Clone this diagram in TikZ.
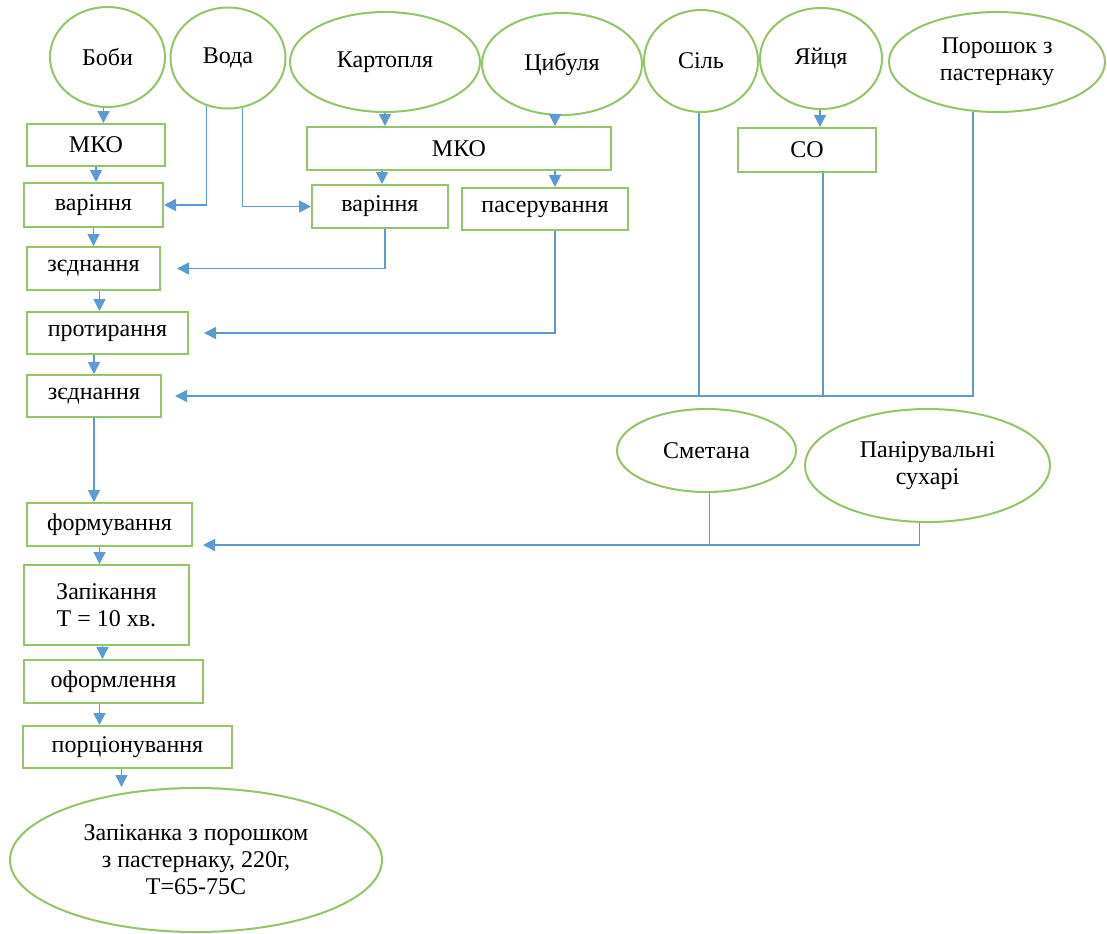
\documentclass[tikz,border=0pt]{standalone}
\usepackage{fontspec}
\setmainfont{Liberation Serif}
\usepackage{xcolor}
\usepackage{tikz}
\usetikzlibrary{shapes.geometric, arrows.meta}
\definecolor{leafgreen}{RGB}{146,196,104}
\definecolor{flowblue}{RGB}{91,155,213}

\begin{document}
\begin{tikzpicture}[
  x=0.5pt, y=-0.5pt,
  font=\fontsize{12}{13.5}\selectfont,
  ingr/.style={ellipse, draw=leafgreen, line width=1pt, inner sep=0pt, align=center},
  stage/.style={rectangle, draw=leafgreen, line width=1pt, inner sep=0pt, align=center},
  flow/.style={draw=flowblue, line width=0.75pt},
  arrow/.style={flow, -{Triangle[length=6pt,width=6pt]}}
]
\useasboundingbox (0,0) rectangle (1107,933);

% raw products
\node[ingr, minimum width=57.5pt, minimum height=50pt] (bobi) at (107.5,57) {Боби};
\node[ingr, minimum width=57.5pt, minimum height=50.5pt] (voda) at (228,58) {Вода};
\node[ingr, minimum width=95pt, minimum height=50pt] (kart) at (385,62) {Картопля};
\node[ingr, minimum width=80pt, minimum height=51pt] (cib) at (562,64) {Цибуля};
\node[ingr, minimum width=57pt, minimum height=51pt] (sil) at (701,61) {Сіль};
\node[ingr, minimum width=61pt, minimum height=50.5pt] (yaj) at (821,58.5) {Яйця};
\node[ingr, minimum width=108pt, minimum height=50pt] (por) at (997,62) {Порошок з\\пастернаку};
\node[ingr, minimum width=89.5pt, minimum height=41.5pt] (smet) at (706.5,450.5) {Сметана};
\node[ingr, minimum width=122.5pt, minimum height=56.5pt] (pan) at (927.5,465.5) {Панірувальні\\сухарі};

% stages
\node[stage, minimum width=69pt, minimum height=21pt] (mko1) at (96,145) {МКО};
\node[stage, minimum width=69.5pt, minimum height=22pt] (var1) at (93.5,205) {варіння};
\node[stage, minimum width=152pt, minimum height=21.5pt] (mko2) at (459,148.5) {МКО};
\node[stage, minimum width=68pt, minimum height=21.5pt] (var2) at (380,206.5) {варіння};
\node[stage, minimum width=83pt, minimum height=21pt] (pas) at (545,209) {пасерування};
\node[stage, minimum width=69pt, minimum height=22pt] (co) at (807,150) {СО};
\node[stage, minimum width=66.5pt, minimum height=21.5pt] (zed1) at (93.5,268.5) {зєднання};
\node[stage, minimum width=80.5pt, minimum height=21pt] (prot) at (107.5,333) {протирання};
\node[stage, minimum width=67pt, minimum height=21pt] (zed2) at (94,396) {зєднання};
\node[stage, minimum width=82.5pt, minimum height=21.5pt] (form) at (109.5,524.5) {формування};
\node[stage, minimum width=82.5pt, minimum height=40pt] (zap) at (106.5,605) {Запікання\\Т = 10 хв.};
\node[stage, minimum width=89.5pt, minimum height=21.5pt] (oform) at (113.5,681.5) {оформлення};
\node[stage, minimum width=104.5pt, minimum height=21pt] (porc) at (127.5,747) {порціонування};
\node[ingr, minimum width=186pt, minimum height=72pt] (fin) at (196,860) {Запіканка з порошком\\з пастернаку, 220г,\\Т=65-75С};

\coordinate (formin) at ([xshift=5pt,yshift=1pt]form.south east);

% main column
\draw[arrow] ([xshift=-2pt]bobi.south) -- ([xshift=-2pt]bobi.south |- mko1.north);
\draw[arrow] (mko1.south) -- (mko1.south |- var1.north);
\draw[arrow] (var1.south) -- (var1.south |- zed1.north);
\draw[arrow] ([xshift=3pt]zed1.south) -- ([xshift=3pt]zed1.south |- prot.north);
\draw[arrow] (prot.south -| zed2.north) -- (zed2.north);
\draw[arrow] (zed2.south) -- (zed2.south |- form.north);
\draw[arrow] ([xshift=-5pt]form.south) -- ([xshift=-5pt]form.south |- zap.north);
\draw[arrow] ([xshift=-2pt]zap.south) -- ([xshift=-2pt]zap.south |- oform.north);
\draw[arrow] ([xshift=-7pt]oform.south) -- ([xshift=-7pt]oform.south |- porc.north);
\draw[arrow] ([xshift=-3pt]porc.south) -- ([xshift=-3pt]porc.south |- fin.north);

% water
\draw[arrow] (voda.246) |- (var1.east);
\draw[arrow] (voda.286) |- (var2.west);

% potato and onion
\draw[arrow] (kart.south) -- (kart.south |- mko2.north);
\draw[arrow] ([xshift=-3.5pt]cib.south) -- ([xshift=-3.5pt]cib.south |- mko2.north);
\draw[arrow] ([xshift=-38.5pt]mko2.south) -- ([xshift=-38.5pt]mko2.south |- var2.north);
\draw[arrow] ([xshift=48pt]mko2.south) -- ([xshift=48pt]mko2.south |- pas.north);
\draw[arrow, shorten >=8pt] ([xshift=2.5pt]var2.south) |- (zed1.east);
\draw[arrow, shorten >=7.5pt] ([xshift=5pt]pas.south) |- (prot.east);

% salt, eggs, parsnip powder
\draw[arrow] ([xshift=-0.5pt]yaj.south) -- ([xshift=-0.5pt]yaj.south |- co.north);
\draw[flow] ([xshift=-1pt]sil.south) -- ([xshift=-1pt]sil.south |- zed2.east);
\draw[flow] ([xshift=8pt]co.south) -- ([xshift=8pt]co.south |- zed2.east);
\draw[arrow, shorten >=6.5pt] (por.244) |- (zed2.east);

% sour cream and breadcrumbs
\draw[flow] ([xshift=1.5pt]smet.south) -- ([xshift=1.5pt]smet.south |- formin);
\draw[arrow] ([xshift=-4pt]pan.south) |- (formin);
\end{tikzpicture}
\end{document}
